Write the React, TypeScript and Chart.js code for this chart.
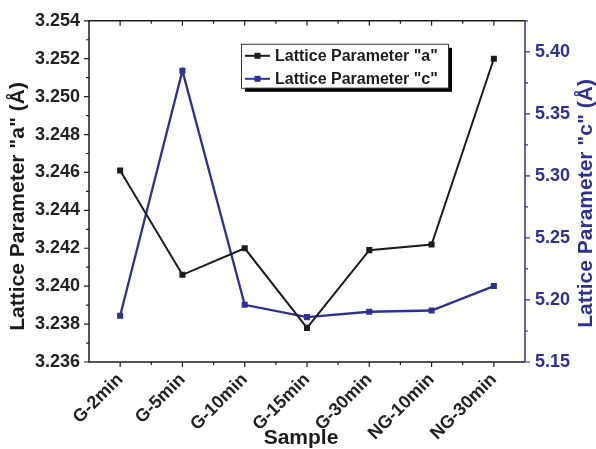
import React, { useEffect, useRef } from 'react';
import { Chart, registerables } from 'chart.js';

Chart.register(...registerables);

const samples = ['G-2min', 'G-5min', 'G-10min', 'G-15min', 'G-30min', 'NG-10min', 'NG-30min'];
const latticeA = [3.2461, 3.2406, 3.242, 3.2378, 3.2419, 3.2422, 3.252];
const latticeC = [5.1873, 5.3848, 5.1961, 5.1862, 5.1905, 5.1915, 5.2112];

const aRange = [3.236, 3.254];
const aMajorTicks = [3.236, 3.238, 3.24, 3.242, 3.244, 3.246, 3.248, 3.25, 3.252, 3.254];
const aMinorTicks = [3.237, 3.239, 3.241, 3.243, 3.245, 3.247, 3.249, 3.251, 3.253];
const cRange = [5.15, 5.425];
const cMajorTicks = [5.15, 5.2, 5.25, 5.3, 5.35, 5.4];
const cMinorTicks = [5.175, 5.225, 5.275, 5.325, 5.375, 5.425];

const seriesNames = ['Lattice Parameter "a"', 'Lattice Parameter "c"'];
const axisTitles = { x: 'Sample', a: 'Lattice Parameter "a" (Å)', c: 'Lattice Parameter "c" (Å)' };

const BLACK = '#1c1c1c';
const BLUE = '#2e3192';
const FONT = '"Liberation Sans", Arial, sans-serif';

const decorPlugin = {
  id: 'decor',
  beforeDatasetsDraw(chart: any) {
    const { ctx, chartArea: ca, scales } = chart;
    const x = scales.x, ya = scales.yA, yc = scales.yC;
    ctx.save();
    ctx.lineWidth = 1.5;
    ctx.strokeStyle = BLACK;
    ctx.beginPath();
    ctx.moveTo(ca.right, ca.top);
    ctx.lineTo(ca.left, ca.top);
    ctx.lineTo(ca.left, ca.bottom);
    ctx.lineTo(ca.right, ca.bottom);
    ctx.stroke();
    ctx.lineWidth = 1.2;
    ctx.beginPath();
    aMajorTicks.forEach(v => { const p = ya.getPixelForValue(v); ctx.moveTo(ca.left - 5, p); ctx.lineTo(ca.left, p); });
    aMinorTicks.forEach(v => { const p = ya.getPixelForValue(v); ctx.moveTo(ca.left - 3, p); ctx.lineTo(ca.left, p); });
    for (let i = 0; i < samples.length; i++) {
      const p = x.getPixelForValue(i);
      ctx.moveTo(p, ca.bottom); ctx.lineTo(p, ca.bottom + 5);
      ctx.moveTo(p, ca.top); ctx.lineTo(p, ca.top + 5);
      if (i < samples.length - 1) {
        const m = (p + x.getPixelForValue(i + 1)) / 2;
        ctx.moveTo(m, ca.bottom); ctx.lineTo(m, ca.bottom + 3);
        ctx.moveTo(m, ca.top); ctx.lineTo(m, ca.top + 3);
      }
    }
    ctx.stroke();
    ctx.strokeStyle = BLUE;
    ctx.lineWidth = 1.5;
    ctx.beginPath();
    ctx.moveTo(ca.right, ca.top);
    ctx.lineTo(ca.right, ca.bottom);
    ctx.stroke();
    ctx.lineWidth = 1.2;
    ctx.beginPath();
    cMajorTicks.forEach(v => { const p = yc.getPixelForValue(v); ctx.moveTo(ca.right, p); ctx.lineTo(ca.right + 5, p); });
    cMinorTicks.forEach(v => { const p = yc.getPixelForValue(v); ctx.moveTo(ca.right, p); ctx.lineTo(ca.right + 3, p); });
    ctx.stroke();
    ctx.restore();
  },
  afterDraw(chart: any) {
    const { ctx, chartArea: ca } = chart;
    ctx.save();
    ctx.font = `bold 21px ${FONT}`;
    ctx.textAlign = 'center';
    ctx.textBaseline = 'middle';
    ctx.fillStyle = BLACK;
    ctx.fillText(axisTitles.x, (ca.left + ca.right) / 2 - 6, 438);
    ctx.save();
    ctx.translate(18, (ca.top + ca.bottom) / 2 + 15);
    ctx.rotate(-Math.PI / 2);
    ctx.fillText(axisTitles.a, 0, 0);
    ctx.restore();
    ctx.save();
    ctx.fillStyle = BLUE;
    ctx.translate(586, (ca.top + ca.bottom) / 2 + 12);
    ctx.rotate(-Math.PI / 2);
    ctx.fillText(axisTitles.c, 0, 0);
    ctx.restore();

    const bx = ca.left + 152, by = ca.top + 23, bw = 207, bh = 44;
    ctx.fillStyle = '#000';
    ctx.fillRect(bx + 4, by + 4, bw, bh);
    ctx.fillStyle = '#fff';
    ctx.fillRect(bx, by, bw, bh);
    ctx.strokeStyle = '#333';
    ctx.lineWidth = 1;
    ctx.strokeRect(bx + 0.5, by + 0.5, bw, bh);
    const colors = [BLACK, BLUE];
    ctx.font = `bold 16px ${FONT}`;
    ctx.textAlign = 'left';
    seriesNames.forEach((name, i) => {
      const ry = by + 12 + i * 23;
      ctx.strokeStyle = colors[i];
      ctx.lineWidth = 2;
      ctx.beginPath();
      ctx.moveTo(bx + 4, ry);
      ctx.lineTo(bx + 29, ry);
      ctx.stroke();
      ctx.fillStyle = colors[i];
      ctx.fillRect(bx + 13.5, ry - 3, 6, 6);
      ctx.fillStyle = BLACK;
      ctx.fillText(name, bx + 34, ry + 1);
    });
    ctx.restore();
  },
};

export default function App() {
  const ref = useRef<HTMLCanvasElement>(null);
  useEffect(() => {
    if (!ref.current) return;
    const chart = new Chart(ref.current, {
      type: 'line',
      data: {
        labels: samples,
        datasets: [
          {
            label: seriesNames[0],
            data: latticeA,
            yAxisID: 'yA',
            borderColor: BLACK,
            backgroundColor: BLACK,
            borderWidth: 2,
            pointStyle: 'rect',
            pointRadius: 4.3,
            pointBorderWidth: 0,
            pointBackgroundColor: BLACK,
            tension: 0,
          },
          {
            label: seriesNames[1],
            data: latticeC,
            yAxisID: 'yC',
            borderColor: BLUE,
            backgroundColor: BLUE,
            borderWidth: 2.3,
            pointStyle: 'rect',
            pointRadius: 4.3,
            pointBorderWidth: 0,
            pointBackgroundColor: BLUE,
            tension: 0,
          },
        ],
      },
      options: {
        responsive: false,
        animation: false,
        layout: { padding: { top: 20, left: 0, right: 0, bottom: 0 } },
        plugins: { legend: { display: false }, tooltip: { enabled: false } },
        scales: {
          x: {
            type: 'category',
            offset: true,
            grid: { display: false, drawTicks: false },
            border: { display: false },
            ticks: {
              font: { family: FONT, size: 18, weight: 'bold' },
              color: '#222',
              minRotation: 45,
              maxRotation: 45,
              padding: 7,
              autoSkip: false,
            },
            afterFit: (s: any) => { s.height = 87; },
          },
          yA: {
            type: 'linear',
            position: 'left',
            min: aRange[0],
            max: aRange[1],
            afterBuildTicks: (s: any) => { s.ticks = aMajorTicks.map(v => ({ value: v })); },
            grid: { display: false, drawTicks: false },
            border: { display: false },
            ticks: {
              font: { family: FONT, size: 18, weight: 'bold' },
              color: '#222',
              padding: 9,
              callback: (v: any) => Number(v).toFixed(3),
            },
            afterFit: (s: any) => { s.width = 89; },
          },
          yC: {
            type: 'linear',
            position: 'right',
            min: cRange[0],
            max: cRange[1],
            afterBuildTicks: (s: any) => { s.ticks = cMajorTicks.map(v => ({ value: v })); },
            grid: { display: false, drawTicks: false },
            border: { display: false },
            ticks: {
              font: { family: FONT, size: 18, weight: 'bold' },
              color: BLUE,
              padding: 10,
              callback: (v: any) => Number(v).toFixed(2),
            },
            afterFit: (s: any) => { s.width = 71; },
          },
        },
      },
      plugins: [decorPlugin],
    });
    return () => chart.destroy();
  }, []);
  return (
    <canvas
      ref={ref}
      width={596}
      height={449}
      style={{ position: 'fixed', left: 0, top: 0, width: 596, height: 449, background: '#fff' }}
    />
  );
}
